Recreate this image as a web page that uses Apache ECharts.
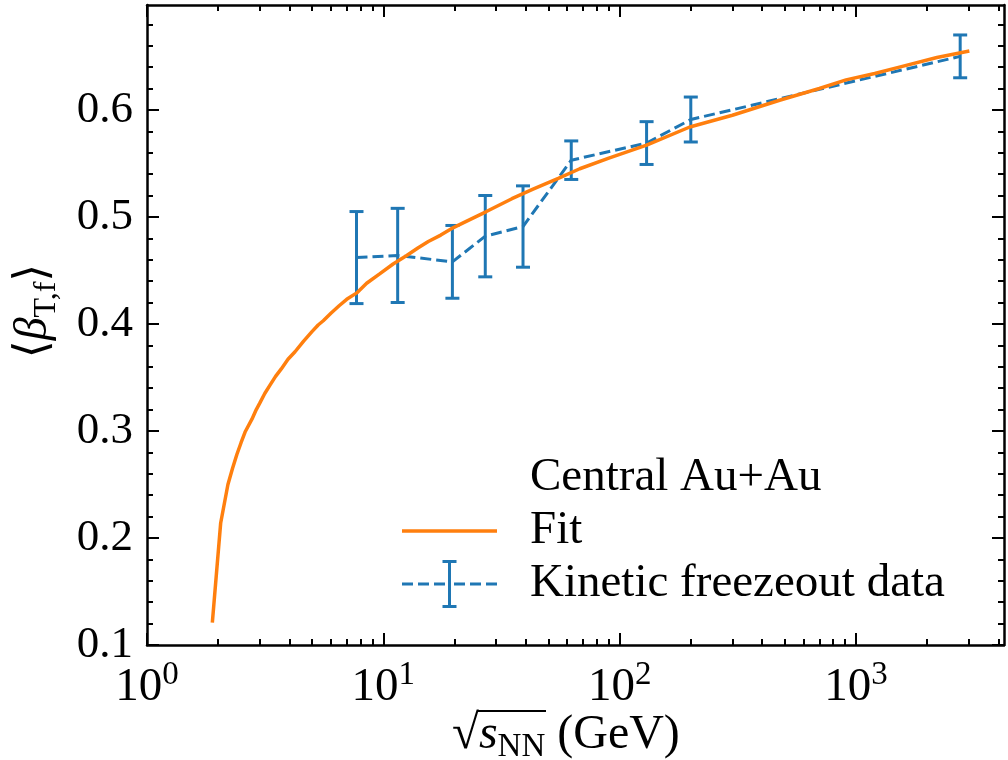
<!DOCTYPE html>
<html>
<head>
<meta charset="utf-8">
<script src="https://cdn.jsdelivr.net/npm/echarts@6/dist/echarts.min.js"></script>
<style>
  html, body { margin: 0; padding: 0; background: #ffffff; }
  #chart { width: 1008px; height: 760px; }
</style>
</head>
<body>
<div id="chart"></div>
<script>
// Collision energies sqrt(s_NN) in GeV and kinetic freeze-out mean transverse flow velocity
const energies = [7.7, 11.5, 19.6, 27, 39, 62.4, 130, 200, 2760];
const beta     = [0.462, 0.464, 0.458, 0.482, 0.491, 0.553, 0.569, 0.591, 0.650];
const betaErr  = [0.043, 0.044, 0.034, 0.038, 0.038, 0.018, 0.020, 0.021, 0.020];

// Fit curve sampled along sqrt(s_NN)
const fitX = [1.89, 2.05, 2.2, 2.3, 2.4, 2.5, 2.6, 2.78, 2.9, 3.0, 3.15, 3.32, 3.5, 3.7, 3.95,
              4.23, 4.6, 5.0, 5.3, 5.57, 6.0, 6.5, 7.0, 7.72, 8.5, 9.68, 11, 12.56, 14, 15.5,
              17.5, 19.8, 23, 27.3, 35, 43, 55, 67.8, 90, 130, 198, 300, 475,
              700, 908, 1200, 1527, 2200, 3018];
const fitY = [0.121, 0.214, 0.250, 0.265, 0.278, 0.289, 0.299, 0.311, 0.320, 0.326, 0.335, 0.343, 0.351, 0.358, 0.367,
              0.374, 0.384, 0.393, 0.399, 0.403, 0.410, 0.417, 0.423, 0.429, 0.438, 0.447, 0.456, 0.464, 0.471, 0.477,
              0.483, 0.490, 0.497, 0.505, 0.517, 0.526, 0.536, 0.545, 0.555, 0.567, 0.584, 0.595, 0.609,
              0.620, 0.628, 0.634, 0.640, 0.649, 0.655];

// Axis ticks
const xMajorTicks = [1, 10, 100, 1000];
const xMinorTicks = [2, 3, 4, 5, 6, 7, 8, 9, 20, 30, 40, 50, 60, 70, 80, 90,
                     200, 300, 400, 500, 600, 700, 800, 900, 2000, 3000, 4000];
const yMajorTicks = [0.1, 0.2, 0.3, 0.4, 0.5, 0.6];
const yMinorTicks = [0.12, 0.14, 0.16, 0.18, 0.22, 0.24, 0.26, 0.28, 0.32, 0.34, 0.36, 0.38,
                     0.42, 0.44, 0.46, 0.48, 0.52, 0.54, 0.56, 0.58, 0.62, 0.64, 0.66, 0.68];

const SERIF = "'Liberation Serif', 'DejaVu Serif', serif";
const BLUE = '#1f77b4';
const ORANGE = '#ff7f0e';
const X_MIN = 1, X_MAX = 4230;
const Y_MIN = 0.1, Y_MAX = 0.698;

function xAxisDef(position, ticks, tickLen, showLine, label) {
  return {
    type: 'log', logBase: 10, gridIndex: 0, position: position,
    min: X_MIN, max: X_MAX,
    axisLine: { show: showLine, onZero: false, lineStyle: { color: '#000', width: 2.5 } },
    axisTick: { show: true, inside: true, length: tickLen, customValues: ticks,
                lineStyle: { color: '#000', width: 2 } },
    axisLabel: label || { show: false },
    splitLine: { show: false },
    minorTick: { show: false },
    minorSplitLine: { show: false }
  };
}

function yAxisDef(position, ticks, tickLen, showLine, label, extra) {
  return Object.assign({
    type: 'value', gridIndex: 0, position: position,
    min: Y_MIN, max: Y_MAX,
    axisLine: { show: showLine, onZero: false, lineStyle: { color: '#000', width: 2.5 } },
    axisTick: { show: true, inside: true, length: tickLen, customValues: ticks,
                lineStyle: { color: '#000', width: 2 } },
    axisLabel: label || { show: false },
    splitLine: { show: false },
    minorTick: { show: false },
    minorSplitLine: { show: false }
  }, extra || {});
}

const xLabel = {
  show: true,
  customValues: xMajorTicks,
  margin: 14,
  formatter: function (v) {
    return '{b|10}{sup|' + Math.round(Math.log10(v)) + '}';
  },
  rich: {
    b:   { fontFamily: SERIF, fontSize: 47, color: '#000', lineHeight: 58 },
    sup: { fontFamily: SERIF, fontSize: 33, color: '#000', lineHeight: 33, verticalAlign: 'top' }
  }
};

const yLabel = {
  show: true,
  customValues: yMajorTicks,
  margin: 14,
  fontFamily: SERIF, fontSize: 45, color: '#000',
  formatter: function (v) { return v.toFixed(1); }
};

// Legend handles: a solid line, and a dashed line crossed by an error bar.
// A lone corner point fixes each handle's bounding box so both keep the same scale.
const FIT_ICON = 'path://M0,22.25h95v3.5h-95z M123,0L123,0.01 M0,48L0.01,48';
const DATA_ICON = 'path://' +
  'M0,22.5h11v3h-11z M16,22.5h11v3h-11z M32,22.5h11v3h-11z ' +
  'M52,22.5h11v3h-11z M68,22.5h11v3h-11z M84,22.5h11v3h-11z ' +
  'M46,0h3v48h-3z M40.5,0h14v3h-14z M40.5,45h14v3h-14z M123,0L123,0.01';

const chart = echarts.init(document.getElementById('chart'), null, { renderer: 'canvas' });

chart.setOption({
  animation: false,
  backgroundColor: '#ffffff',
  grid: { left: 147, right: 4, top: 5, bottom: 115, containLabel: false, outerBoundsMode: 'none' },
  title: {
    text: 'Central Au+Au',
    left: 530, top: 453, padding: 0,
    textStyle: { fontFamily: SERIF, fontSize: 47, fontWeight: 'normal', color: '#000', lineHeight: 50 }
  },
  legend: {
    orient: 'vertical',
    left: 402, top: 507, padding: 0,
    itemWidth: 123, itemHeight: 48, itemGap: 5,
    selectedMode: false,
    itemStyle: { borderWidth: 0 },
    textStyle: { fontFamily: SERIF, fontSize: 47, color: '#000', lineHeight: 48 },
    data: [
      { name: 'Fit', icon: FIT_ICON },
      { name: 'Kinetic freezeout data', icon: DATA_ICON }
    ]
  },
  xAxis: [
    xAxisDef('bottom', xMajorTicks, 12, true, xLabel),
    xAxisDef('top', xMajorTicks, 12, true, null),
    xAxisDef('bottom', xMinorTicks, 6, false, null),
    xAxisDef('top', xMinorTicks, 6, false, null)
  ],
  yAxis: [
    yAxisDef('left', yMajorTicks, 12, true, yLabel, {
      name: '\u27E8{b|\u03B2}{sub|T,f}\u27E9',
      nameLocation: 'middle',
      nameRotate: 90,
      nameGap: 84,
      nameTextStyle: {
        fontFamily: SERIF, fontSize: 46, color: '#000', lineHeight: 58,
        padding: [0, 0, 0, 28],
        rich: {
          b:   { fontFamily: SERIF, fontSize: 46, fontStyle: 'italic', color: '#000', lineHeight: 58 },
          sub: { fontFamily: SERIF, fontSize: 32, color: '#000', lineHeight: 32, verticalAlign: 'bottom' }
        }
      }
    }),
    yAxisDef('right', yMajorTicks, 12, true, null),
    yAxisDef('left', yMinorTicks, 6, false, null),
    yAxisDef('right', yMinorTicks, 6, false, null)
  ],
  graphic: [
    {
      type: 'text',
      z: 10,
      style: {
        x: 452, y: 735,
        verticalAlign: 'middle',
        text: '{r|\u221A}{s|s}{n|NN}{g| (GeV)}',
        fill: '#000',
        rich: {
          r: { fontFamily: SERIF, fontSize: 49, color: '#000', lineHeight: 58 },
          s: { fontFamily: SERIF, fontSize: 48, fontStyle: 'italic', color: '#000', lineHeight: 58 },
          n: { fontFamily: SERIF, fontSize: 33, color: '#000', lineHeight: 33, verticalAlign: 'bottom' },
          g: { fontFamily: SERIF, fontSize: 48, color: '#000', lineHeight: 58 }
        }
      }
    },
    {
      type: 'line',
      z: 10,
      shape: { x1: 477, y1: 711, x2: 546, y2: 711 },
      style: { stroke: '#000', lineWidth: 2 }
    }
  ],
  series: [
    {
      name: 'Kinetic freezeout data',
      type: 'line',
      xAxisIndex: 0, yAxisIndex: 0,
      data: energies.map(function (e, i) { return [e, beta[i]]; }),
      symbol: 'none',
      itemStyle: { color: BLUE },
      lineStyle: { color: BLUE, width: 3, type: [11, 5] },
      z: 2,
      silent: true
    },
    {
      name: 'Kinetic freezeout data',
      type: 'custom',
      xAxisIndex: 0, yAxisIndex: 0,
      data: energies.map(function (e, i) { return [e, beta[i] - betaErr[i], beta[i] + betaErr[i]]; }),
      encode: { x: 0, y: [1, 2] },
      itemStyle: { color: BLUE },
      z: 3,
      silent: true,
      renderItem: function (params, api) {
        const lo = api.coord([api.value(0), api.value(1)]);
        const hi = api.coord([api.value(0), api.value(2)]);
        const half = 7;
        const st = { stroke: BLUE, lineWidth: 3, fill: null };
        return {
          type: 'group',
          children: [
            { type: 'line', shape: { x1: lo[0], y1: lo[1], x2: hi[0], y2: hi[1] }, style: st },
            { type: 'line', shape: { x1: lo[0] - half, y1: lo[1], x2: lo[0] + half, y2: lo[1] }, style: st },
            { type: 'line', shape: { x1: hi[0] - half, y1: hi[1], x2: hi[0] + half, y2: hi[1] }, style: st }
          ]
        };
      }
    },
    {
      name: 'Fit',
      type: 'line',
      xAxisIndex: 0, yAxisIndex: 0,
      data: fitX.map(function (x, i) { return [x, fitY[i]]; }),
      symbol: 'none',
      itemStyle: { color: ORANGE },
      lineStyle: { color: ORANGE, width: 3.5 },
      z: 4,
      silent: true
    }
  ]
});
</script>
</body>
</html>
